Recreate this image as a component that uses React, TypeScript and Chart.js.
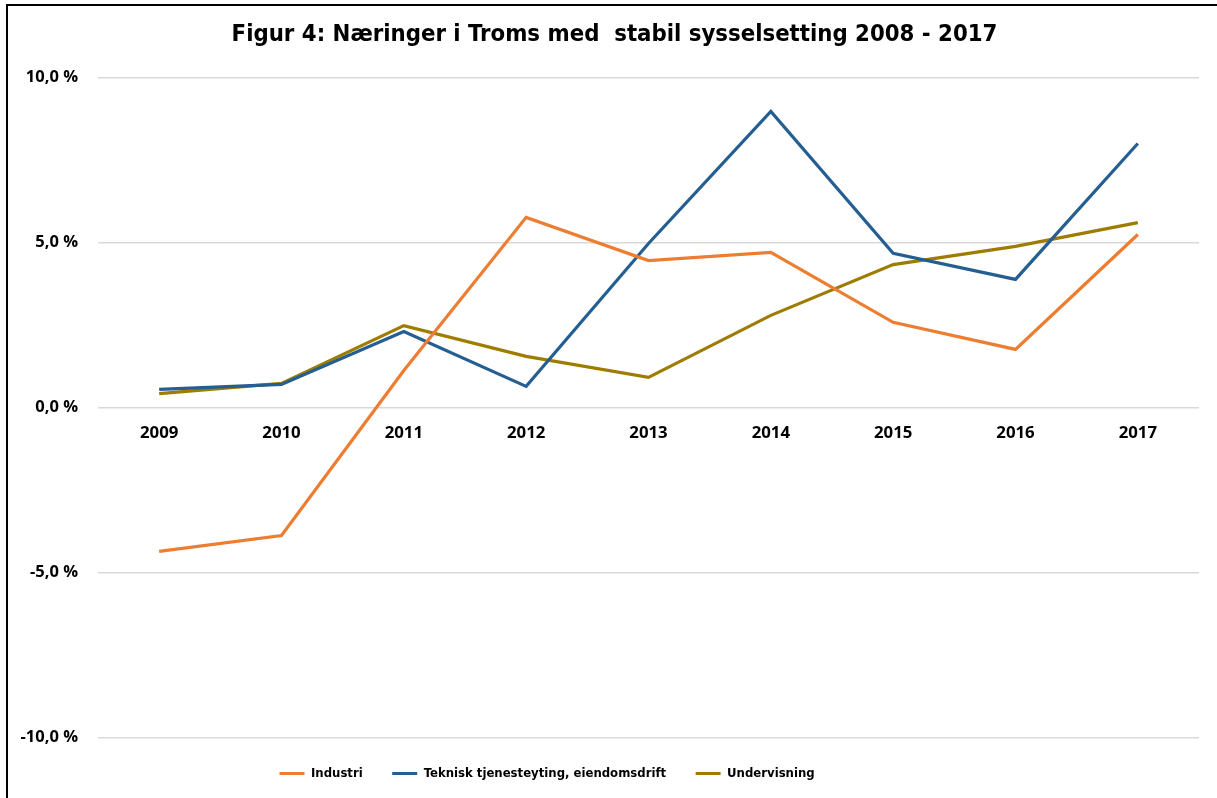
import React, { useEffect, useRef } from "react";
import { Chart, registerables } from "chart.js";

Chart.register(...registerables);

const years = ["2009", "2010", "2011", "2012", "2013", "2014", "2015", "2016", "2017"];
const industri = [-4.36, -3.88, 1.12, 5.76, 4.45, 4.7, 2.58, 1.76, 5.24];
const teknisk = [0.55, 0.7, 2.3, 0.64, 4.97, 8.97, 4.67, 3.88, 8.0];
const undervisning = [0.42, 0.73, 2.48, 1.55, 0.91, 2.79, 4.33, 4.88, 5.6];
const seriesNames = ["Industri", "Teknisk tjenesteyting, eiendomsdrift", "Undervisning"];
const seriesColors = ["#ED7D31", "#255E91", "#9E7C00"];
const titleText = "Figur 4: Næringer i Troms med  stabil sysselsetting 2008 - 2017";

const narrow = "'DejaVu Sans Condensed', 'Open Sans', sans-serif";
const wide = "'Open Sans', 'DejaVu Sans', sans-serif";

const boxShift = {
  id: "boxShift",
  afterLayout(chart: any) {
    const lg = chart.legend;
    if (lg) {
      const w = lg.right - lg.left;
      lg.left = 250;
      lg.right = 250 + w;
    }
    const tb = chart.titleBlock;
    if (tb) {
      tb.left += 15;
      tb.right += 15;
    }
  },
};

export default function App() {
  const ref = useRef<HTMLCanvasElement | null>(null);
  useEffect(() => {
    if (!ref.current) return;
    const values = [industri, teknisk, undervisning];
    const chart = new Chart(ref.current, {
      type: "line",
      data: {
        labels: years,
        datasets: values.map((v, i) => ({
          label: seriesNames[i],
          data: v,
          borderColor: seriesColors[i],
          backgroundColor: seriesColors[i],
          borderWidth: 3.2,
          pointRadius: 0,
          tension: 0,
        })),
      },
      plugins: [boxShift],
      options: {
        animation: false,
        responsive: false,
        layout: { padding: { left: 0, right: 18, top: 0, bottom: 0 } },
        plugins: {
          title: {
            display: true,
            text: titleText,
            color: "#000",
            font: { family: narrow, size: 23.7, weight: "bold" },
            padding: { top: 21, bottom: 28 },
          },
          legend: {
            position: "bottom",
            align: "start",
            labels: {
              color: "#000",
              font: { family: narrow, size: 13, weight: "bold" },
              usePointStyle: true,
              pointStyle: "line",
              pointStyleWidth: 25,
              boxHeight: 3,
              padding: 29.5,
            },
          },
          tooltip: { enabled: false },
        },
        scales: {
          x: {
            position: { y: 0 },
            offset: true,
            grid: { display: false, drawTicks: false },
            border: { display: false },
            ticks: { color: "#000", font: { family: wide, size: 16.8, weight: "bold" }, padding: 16 },
          },
          y: {
            min: -10,
            max: 10,
            afterFit: (s: any) => { s.width = 98; },
            grid: { color: "#d9d9d9", lineWidth: 1.5, drawTicks: false },
            border: { display: false },
            ticks: {
              stepSize: 5,
              color: "#000",
              padding: 20,
              font: { family: wide, size: 16.5, weight: "bold" },
              callback: (v: any) => Number(v).toFixed(1).replace(".", ",") + " %",
            },
          },
        },
      },
    });
    return () => chart.destroy();
  }, []);
  return (
    <div style={{ position: "absolute", left: 0, top: 0, width: 1217, height: 798, overflow: "hidden", background: "#fff" }}>
      <div style={{ position: "absolute", left: 6, top: 4, width: 1300, height: 900, borderLeft: "2px solid #000", borderTop: "2px solid #000" }} />
      <canvas ref={ref} width={1217} height={790} style={{ position: "absolute", left: 0, top: 0, width: 1217, height: 790 }} />
    </div>
  );
}
